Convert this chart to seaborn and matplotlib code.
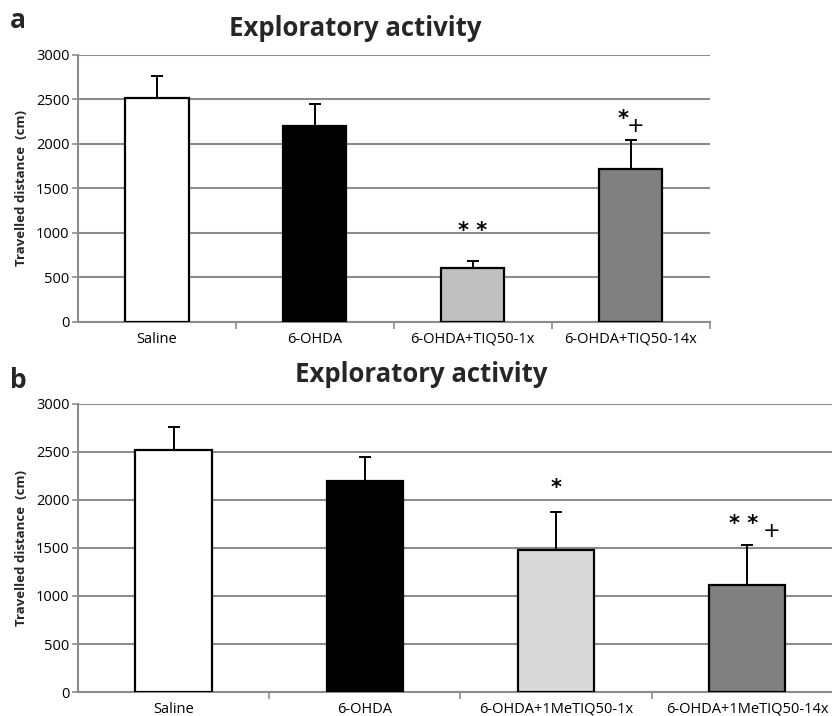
import matplotlib
matplotlib.use("Agg")
import matplotlib.pyplot as plt
import seaborn as sns
import pandas as pd
import numpy as np

# Panel a data
cats_a = ["Saline", "6-OHDA", "6-OHDA+TIQ50-1x", "6-OHDA+TIQ50-14x"]
mean_a = [2520, 2200, 610, 1720]
sem_a = [240, 250, 70, 330]
stars_a = ["", "", "* *", "*"]
plus_a = ["", "", "", "+"]
colors_a = ["#ffffff", "#000000", "#c0c0c0", "#808080"]

# Panel b data
cats_b = ["Saline", "6-OHDA", "6-OHDA+1MeTIQ50-1x", "6-OHDA+1MeTIQ50-14x"]
mean_b = [2520, 2200, 1480, 1115]
sem_b = [240, 250, 390, 415]
stars_b = ["", "", "*", "* *"]
plus_b = ["", "", "", "+"]
colors_b = ["#ffffff", "#000000", "#d9d9d9", "#808080"]

yticks = [0, 500, 1000, 1500, 2000, 2500, 3000]

sns.set_theme(style="white")
plt.rcParams["font.family"] = ["Open Sans", "DejaVu Sans"]

fig = plt.figure(figsize=(8.32, 7.16), dpi=100)
ax_a = fig.add_axes([0.09375, 0.5503, 0.853 - 0.09375, 0.9232 - 0.5503])
ax_b = fig.add_axes([0.09375, 0.0335, 1.013 - 0.09375, 0.4358 - 0.0335])


def draw(ax, cats, means, sems, stars, pluses, colors, gaps, star_dx, plus_dx):
    df = pd.DataFrame({"group": cats, "distance": means})
    sns.barplot(data=df, x="group", y="distance", hue="group", order=cats,
                palette=colors, width=0.4, edgecolor="black", linewidth=1.6,
                legend=False, ax=ax, zorder=3)
    x = np.arange(len(cats))
    ax.errorbar(x, means, yerr=[np.zeros(len(sems)), sems], fmt="none",
                ecolor="black", elinewidth=1.4, capsize=4, capthick=1.4, zorder=4)
    for xi, m, s, st, pl, g, sdx, pdx in zip(x, means, sems, stars, pluses,
                                           gaps, star_dx, plus_dx):
        y = m + s + g
        if st:
            ax.annotate(st, (xi, y), xytext=(sdx, 0), textcoords="offset pixels",
                        ha="center", va="center", fontsize=15, fontweight="bold",
                        family="DejaVu Sans", color="black")
        if pl:
            ax.annotate(pl, (xi, y), xytext=(pdx, -7), textcoords="offset pixels",
                        ha="center", va="center", fontsize=15,
                        family="DejaVu Sans", color="black")
    ax.set_ylim(0, 3000)
    ax.set_xlim(-0.5, len(cats) - 0.5)
    ax.set_yticks(yticks)
    ax.set_yticklabels([str(t) for t in yticks], fontsize=10.5)
    ax.yaxis.grid(True, color="#8c8c8c", linewidth=1.5, zorder=0)
    ax.set_axisbelow(True)
    for side in ["top", "right"]:
        ax.spines[side].set_visible(False)
    for side in ["left", "bottom"]:
        ax.spines[side].set_color("#8c8c8c")
        ax.spines[side].set_linewidth(1.5)
    ax.tick_params(axis="y", left=True, length=4, width=1.2, color="#8c8c8c",
                   pad=2, labelcolor="black")
    ax.tick_params(axis="x", bottom=False, labelsize=10.5, pad=1,
                   labelcolor="black")
    ax.set_xticks(np.arange(0.5, len(cats), 1.0), minor=True)
    ax.tick_params(axis="x", which="minor", bottom=True, length=5, width=1.2,
                   color="#8c8c8c")
    ax.set_xlabel("")
    ax.set_ylabel("Travelled distance  (cm)", fontsize=9.5, fontweight="bold",
                  labelpad=6)
    return ax


draw(ax_a, cats_a, mean_a, sem_a, stars_a, plus_a, colors_a,
     [0, 0, 345, 235], [0, 0, 0, -8], [0, 0, 0, 5])
draw(ax_b, cats_b, mean_b, sem_b, stars_b, plus_b, colors_b,
     [0, 0, 255, 215], [0, 0, 0, -4], [0, 0, 0, 24])

fig.text(355 / 832, 1 - 28 / 716, "Exploratory activity", ha="center",
         va="center", fontsize=18.5, fontweight="bold")
fig.text(421 / 832, 1 - 375 / 716, "Exploratory activity", ha="center",
         va="center", fontsize=18.5, fontweight="bold")
fig.text(10 / 832, 1 - 20 / 716, "a", ha="left", va="center", fontsize=19,
         fontweight="bold")
fig.text(10 / 832, 1 - 380 / 716, "b", ha="left", va="center", fontsize=19,
         fontweight="bold")

fig.savefig("out.png", dpi=100, facecolor="white")
